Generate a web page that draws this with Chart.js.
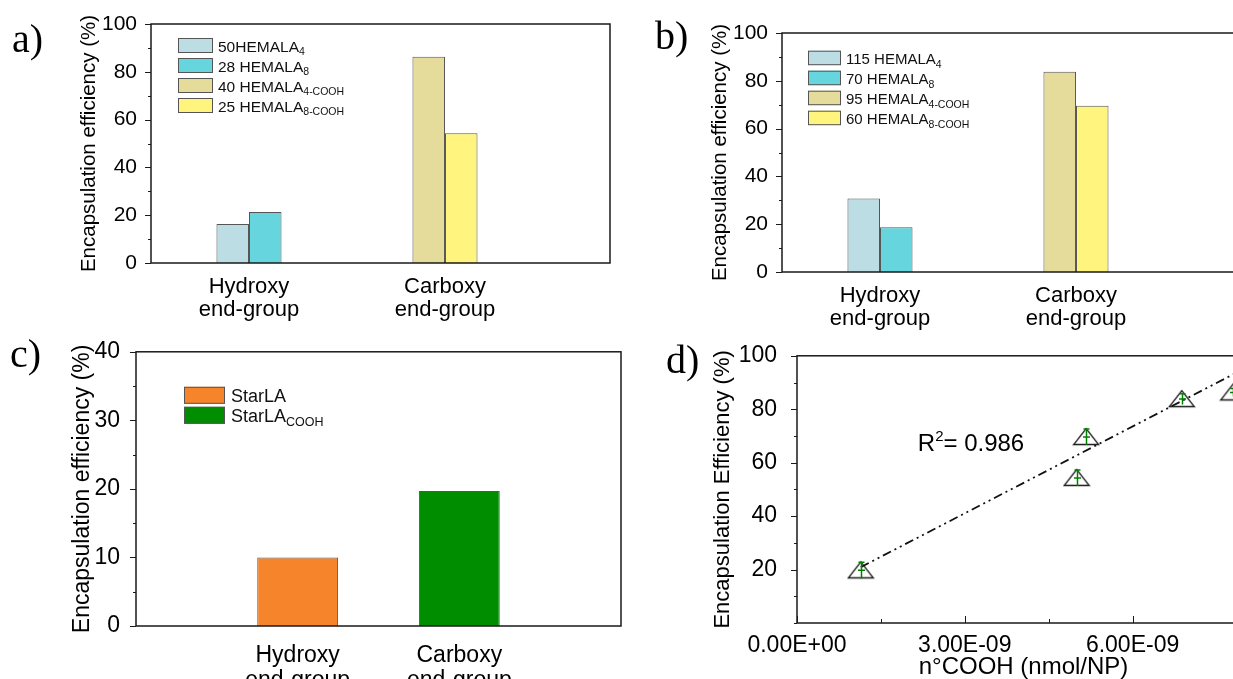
<!DOCTYPE html>
<html>
<head>
<meta charset="utf-8">
<script src="https://cdn.jsdelivr.net/npm/chart.js@4.4.0/dist/chart.umd.min.js"></script>
<style>
  body { margin: 0; width: 1233px; height: 679px; overflow: hidden; background: #fff; position: relative; }
  canvas { position: absolute; }
  .tag { position: absolute; font-family: "Liberation Serif", "Times New Roman", serif; font-size: 40px; line-height: 40px; color: #000; }
</style>
</head>
<body>
<canvas id="chartA" width="640" height="330" style="left:0;top:0"></canvas>
<canvas id="chartB" width="640" height="330" style="left:631px;top:9px"></canvas>
<canvas id="chartC" width="650" height="370" style="left:0;top:330px"></canvas>
<canvas id="chartD" width="660" height="370" style="left:620px;top:330px"></canvas>
<div class="tag" style="left:12px;top:19px">a)</div>
<div class="tag" style="left:655px;top:16px">b)</div>
<div class="tag" style="left:10px;top:334px">c)</div>
<div class="tag" style="left:666px;top:340px">d)</div>
<script>
// categories (x = 1, 2 on the index axis)
const groupNames = ["Hydroxy", "Carboxy"];
const groupSuffix = "end-group";
const groupX = [1, 2];

// panel a
const seriesA = ["50HEMALA", "28 HEMALA", "40 HEMALA", "25 HEMALA"];
const hydroxyA = [16.3, 21.3, null, null];
const carboxyA = [null, null, 86.3, 54.3];
// panel b
const seriesB = ["115 HEMALA", "70 HEMALA", "95 HEMALA", "60 HEMALA"];
const hydroxyB = [30.8, 18.7, null, null];
const carboxyB = [null, null, 83.8, 69.6];
const seriesSub = ["4", "8", "4-COOH", "8-COOH"];
// panel c
const seriesC = ["StarLA", "StarLA"];
const seriesSubC = ["", "COOH"];
const hydroxyC = [10.0, null];
const carboxyC = [null, 19.7];
// panel d
const coohD = [1.14e-9, 5.0e-9, 5.17e-9, 6.88e-9, 7.8e-9];
const effD = [19.7, 54.3, 69.6, 83.8, 86.3];
const errD = [3, 3, 3, 2, 1.5];
const fitX = [1.14e-9, 8.1e-9];
const fitY = [20.9, 96.3];
const r2Value = "0.986";
const r2At = [2.16e-9, 64.3];

const barColors = ["#bcdde3", "#66d5dd", "#e5dc9c", "#fef47e"];
const colorsC = ["#f5842a", "#008e00"];
const INK = "#1a1a1a";
const FONT = '"Liberation Sans", Arial, sans-serif';

Chart.defaults.font.family = FONT;
Chart.defaults.color = "#000";
Chart.defaults.animation = false;

// box frame + tick marks
const framePlugin = {
  id: "frame",
  afterDatasetsDraw(chart, args, opts) {
    const { ctx, chartArea: a, scales } = chart;
    ctx.save();
    ctx.strokeStyle = INK;
    ctx.lineWidth = 1;
    const y = scales.y;
    y.ticks.forEach((t, i) => {
      const py = Math.round(y.getPixelForTick(i)) + 0.5;
      const len = t.label === "" ? 3 : 6;
      ctx.beginPath();
      ctx.moveTo(a.left, py);
      ctx.lineTo(a.left - len, py);
      ctx.stroke();
    });
    if (opts.xTicks) {
      const x = scales.x;
      x.ticks.forEach((t, i) => {
        const px = Math.round(x.getPixelForTick(i)) + 0.5;
        const len = t.label === "" ? 4 : 7;
        ctx.beginPath();
        ctx.moveTo(px, a.bottom);
        ctx.lineTo(px, a.bottom - len);
        ctx.stroke();
      });
    }
    ctx.lineWidth = 1.5;
    ctx.strokeRect(a.left, a.top, a.right - a.left, a.bottom - a.top);
    ctx.restore();
  }
};

// legend with subscripts
const subLegend = {
  id: "subLegend",
  afterDatasetsDraw(chart, args, o) {
    if (!o.w) return;
    const { ctx, chartArea: a } = chart;
    ctx.save();
    chart.data.datasets.forEach((ds, i) => {
      const x = a.left + o.dx, y = a.top + o.dy + i * o.row;
      ctx.fillStyle = ds.backgroundColor;
      ctx.fillRect(x, y, o.w, o.h);
      ctx.strokeStyle = "#555";
      ctx.lineWidth = 1;
      ctx.strokeRect(x + 0.5, y + 0.5, o.w - 1, o.h - 1);
      ctx.fillStyle = "#111";
      ctx.textBaseline = "alphabetic";
      ctx.font = o.size + "px " + FONT;
      const tx = x + o.w + o.gap, ty = y + o.base;
      ctx.fillText(ds.label, tx, ty);
      const w = ctx.measureText(ds.label).width;
      ctx.font = o.subSize + "px " + FONT;
      ctx.fillText(ds.sub, tx + w, ty + o.subDy);
    });
    ctx.restore();
  }
};

function groupLabel(v) {
  const i = groupX.indexOf(v);
  return i < 0 ? "" : [groupNames[i], groupSuffix];
}

function barChart(id, names, subs, hyd, carb, colors, g) {
  const datasets = names.map((n, i) => ({
    label: n,
    sub: subs[i],
    data: [{ x: groupX[0], y: hyd[i] }, { x: groupX[1], y: carb[i] }],
    backgroundColor: colors[i],
    borderColor: "#555",
    borderWidth: 1,
    skipNull: true,
    barPercentage: 1,
    categoryPercentage: g.catPct
  }));
  return new Chart(document.getElementById(id), {
    type: "bar",
    data: { datasets },
    plugins: [framePlugin, subLegend],
    options: {
      responsive: false,
      layout: { padding: { top: g.top, right: g.right } },
      plugins: {
        legend: { display: false },
        tooltip: { enabled: false },
        subLegend: g.legend
      },
      scales: {
        x: {
          type: "linear", min: g.xMin, max: g.xMax, offset: false,
          grid: { display: false }, border: { display: false },
          ticks: {
            stepSize: 1, includeBounds: false, autoSkip: false, maxRotation: 0,
            padding: g.xPad, font: { size: g.labelSize, lineHeight: 1.05 },
            callback: groupLabel
          },
          afterFit: (s) => { s.height = g.xHeight; }
        },
        y: {
          min: 0, max: g.yMax,
          grid: { display: false }, border: { display: false },
          ticks: {
            stepSize: g.yStep, autoSkip: false, padding: g.tickPad,
            font: { size: g.tickSize },
            callback: (v) => (v % (2 * g.yStep) === 0 ? String(v) : "")
          },
          title: {
            display: true, text: "Encapsulation efficiency (%)",
            font: { size: g.titleSize }, padding: { top: g.titlePad, bottom: 0 }
          },
          afterFit: (s) => { s.width = g.yWidth; }
        }
      }
    }
  });
}

const geoAB = {
  top: 24, right: 30, yWidth: 151, xHeight: 67, xMin: 0.5, xMax: 2.842, catPct: 0.332,
  yMax: 100, yStep: 10, tickSize: 21, tickPad: 6, labelSize: 22, xPad: 4.5,
  titleSize: 20.5, titlePad: 76.7
};
barChart("chartA", seriesA, seriesSub, hydroxyA, carboxyA, barColors, Object.assign({}, geoAB, {
  legend: { dx: 27, dy: 14, w: 35, h: 15, row: 20, gap: 5, size: 15.5, subSize: 10.5, base: 13.5, subDy: 3.5 }
}));
barChart("chartB", seriesB, seriesSub, hydroxyB, carboxyB, barColors, Object.assign({}, geoAB, {
  legend: { dx: 26, dy: 17.7, w: 33, h: 14.5, row: 20, gap: 5, size: 15, subSize: 10.5, base: 13.3, subDy: 3.5 }
}));
barChart("chartC", seriesC, seriesSubC, hydroxyC, carboxyC, colorsC, {
  top: 17, right: 29, yWidth: 136, xHeight: 74, xMin: 0, xMax: 3, catPct: 0.5,
  yMax: 40, yStep: 5, tickSize: 23, tickPad: 8, labelSize: 23, xPad: 10,
  titleSize: 23, titlePad: 69.2,
  legend: { dx: 48, dy: 35, w: 41, h: 17, row: 20, gap: 6, size: 18, subSize: 12.5, base: 15.3, subDy: 3.7 }
});

// panel d: scatter with fit line
function triangleSprite() {
  const c = document.createElement("canvas");
  c.width = 28; c.height = 22;
  const g = c.getContext("2d");
  g.strokeStyle = INK;
  g.lineWidth = 1.3;
  g.beginPath();
  g.moveTo(1.5, 18.5); g.lineTo(26.5, 18.5); g.lineTo(14, 2.5); g.closePath();
  g.stroke();
  return c;
}

const errPlugin = {
  id: "errBars",
  afterDatasetsDraw(chart) {
    const { ctx, scales: { x, y } } = chart;
    const ds = chart.data.datasets[0];
    ctx.save();
    ctx.strokeStyle = "#008000";
    ctx.lineWidth = 1.5;
    ds.data.forEach((p, i) => {
      const px = Math.round(x.getPixelForValue(p.x)) + 0.5;
      const py = y.getPixelForValue(p.y);
      const top = y.getPixelForValue(p.y + ds.yErr[i]);
      const bot = y.getPixelForValue(p.y - ds.yErr[i]);
      ctx.beginPath();
      ctx.moveTo(px, top); ctx.lineTo(px, bot);
      ctx.moveTo(px - 3.5, py); ctx.lineTo(px + 3.5, py);
      ctx.moveTo(px - 3, top); ctx.lineTo(px + 3, top);
      ctx.stroke();
    });
    const tx = x.getPixelForValue(r2At[0]), ty = y.getPixelForValue(r2At[1]);
    ctx.fillStyle = "#000";
    ctx.textBaseline = "alphabetic";
    ctx.font = "24px " + FONT;
    ctx.fillText("R", tx, ty);
    let w = ctx.measureText("R").width;
    ctx.font = "15px " + FONT;
    ctx.fillText("2", tx + w, ty - 10);
    w += ctx.measureText("2").width;
    ctx.font = "24px " + FONT;
    ctx.fillText("= " + r2Value, tx + w, ty);
    ctx.restore();
  }
};

function sciLabel(v) {
  const r = v / 3e-9;
  if (Math.abs(r - Math.round(r)) > 1e-6) return "";
  return v.toExponential(2).replace(/e([+-])(\d)$/, "E$10$2").replace("e", "E");
}

new Chart(document.getElementById("chartD"), {
  type: "scatter",
  data: {
    datasets: [
      {
        label: "EE",
        data: coohD.map((v, i) => ({ x: v, y: effD[i] })),
        yErr: errD,
        pointStyle: triangleSprite(),
        pointRadius: 10
      },
      {
        label: "fit",
        type: "line",
        data: fitX.map((v, i) => ({ x: v, y: fitY[i] })),
        showLine: true,
        borderColor: "#111",
        borderWidth: 1.8,
        borderDash: [9, 4, 2, 4, 2, 4],
        pointRadius: 0,
        fill: false
      }
    ]
  },
  plugins: [framePlugin, errPlugin],
  options: {
    responsive: false,
    layout: { padding: { top: 24, right: 30 } },
    plugins: { legend: { display: false }, tooltip: { enabled: false }, frame: { xTicks: true } },
    scales: {
      x: {
        type: "linear", min: 0, max: 8.1e-9, offset: false,
        grid: { display: false }, border: { display: false },
        ticks: { stepSize: 1.5e-9, autoSkip: false, maxRotation: 0, padding: 1, font: { size: 23 }, callback: sciLabel },
        title: { display: true, text: "n°COOH (nmol/NP)", font: { size: 24 }, padding: { top: 0, bottom: 18.5 } },
        afterFit: (s) => { s.height = 77; }
      },
      y: {
        min: 0, max: 100,
        grid: { display: false }, border: { display: false },
        ticks: { stepSize: 10, autoSkip: false, padding: 12, font: { size: 23 },
                 callback: (v) => (v > 0 && v % 20 === 0 ? String(v) : "") },
        title: { display: true, text: "Encapsulation Efficiency (%)", font: { size: 22 }, padding: { top: 89.8, bottom: 0 } },
        afterFit: (s) => { s.width = 177; }
      }
    }
  }
});
</script>
</body>
</html>
